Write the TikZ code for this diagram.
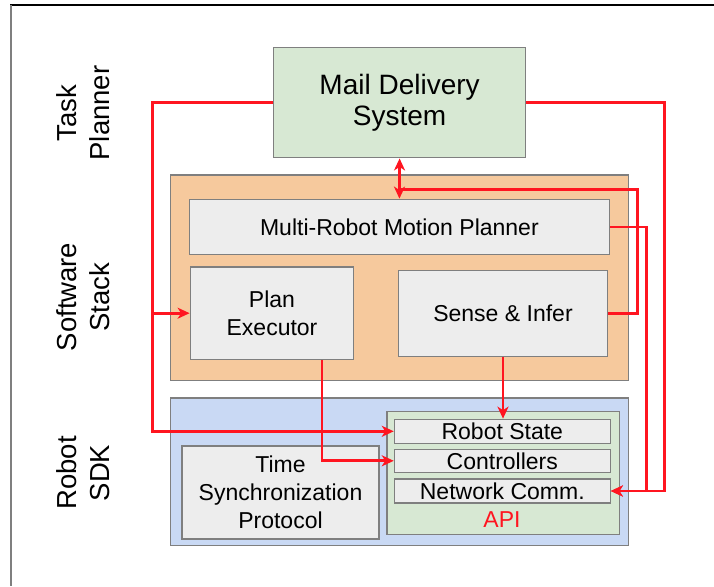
\documentclass[tikz,border=0pt]{standalone}
\usepackage{fontspec}
\setmainfont{Liberation Sans}
\usepackage{tikz}
\usetikzlibrary{arrows.meta,calc}
\definecolor{boxgray}{HTML}{7F7F7F}
\definecolor{cellgray}{HTML}{EDEDED}
\definecolor{planner}{HTML}{D7E8D3}
\definecolor{stack}{HTML}{F6C99D}
\definecolor{sdk}{HTML}{C9D9F4}
\definecolor{linkred}{HTML}{FF1520}

\begin{document}
\begin{tikzpicture}[x=1pt, y=-1pt,
  box/.style={draw=boxgray, line width=1.3pt, inner sep=0pt, align=center,
              font=\fontsize{23}{28}\selectfont},
  cell/.style={box, fill=cellgray},
  side/.style={rotate=90, align=center, font=\fontsize{27.5}{33}\selectfont},
  link/.style={linkred, line width=2.8pt, line join=miter},
  tip/.style={-{Stealth[length=12pt,width=11pt,inset=3.5pt]}}]
\useasboundingbox (0,0) rectangle (714,586);
\draw[black, line width=1.5pt] (10,5) -- (714,5);
\draw[boxgray, line width=2pt] (11,5) -- (11,586);

% layers
\node[side] (taskl) at (83,113) {Task\\Planner};
\node[side] (softl) at (83,297) {Software\\Stack};
\node[side] (sdkl)  at (83,473) {Robot\\SDK};

\node[box, fill=planner, minimum width=252pt, minimum height=110pt,
      font=\fontsize{28}{31}\selectfont] (mail) at (399.6,102.8) {Mail Delivery\\System};
\node[box, fill=stack, minimum width=458pt, minimum height=205.5pt] (stk) at (399.4,277.7) {};
\node[cell, minimum width=420pt, minimum height=55.3pt] (mrmp) at (399.4,226.9) {Multi-Robot Motion Planner};
\node[cell, minimum width=163.5pt, minimum height=92.7pt] (plan) at (272,313.2) {Plan\\Executor};
\node[cell, minimum width=209pt, minimum height=85.5pt] (sense) at (503,313.4) {Sense \& Infer};

\node[box, fill=sdk, minimum width=458pt, minimum height=147.6pt] (rsdk) at (399.4,471.8) {};
\node[box, fill=planner, minimum width=232.3pt, minimum height=122.6pt] (api) at (503.2,473.1) {};
\node[cell, minimum width=215.8pt, minimum height=24pt] (state) at (502.3,431.3) {Robot State};
\node[cell, minimum width=215.8pt, minimum height=23.2pt] (ctrl) at (502.3,460.8) {Controllers};
\node[cell, minimum width=215.8pt, minimum height=24pt] (net) at (502.3,491) {Network Comm.};
\node[text=linkred, font=\fontsize{23}{28}\selectfont] (apil) at (502,519.4) {API};
\node[cell, minimum width=196.8pt, minimum height=93pt] (sync) at (280.5,492.4) {Time\\Synchronization\\Protocol};

% links
\coordinate (lbus) at (152.5,0);
\coordinate (rbus) at (664.8,0);
\coordinate (mbus) at (646.6,0);
\coordinate (sbus) at (637.5,0);
\coordinate (junc) at (399.6,189.8);
\draw[link, tip] (mail.west) -- (mail.west -| lbus) |- (plan.west);
\draw[link, tip] (mail.west) -- (mail.west -| lbus) |- (state.west);
\draw[link, tip] (mail.east) -- (mail.east -| rbus) |- (net.east);
\draw[link, tip] (mrmp.east) -- (mrmp.east -| mbus) |- (net.east);
\draw[link] (sense.east) -- (sense.east -| sbus) |- (junc);
\draw[link, {Stealth[length=12pt,width=11pt,inset=3.5pt]}-{Stealth[length=12pt,width=11pt,inset=3.5pt]}] (mail.south) -- (mrmp.north);
\draw[link, tip] ([xshift=50pt]plan.south) |- (ctrl.west);
\draw[link, tip] (sense.south) -- (sense.south |- state.north);
\end{tikzpicture}
\end{document}
